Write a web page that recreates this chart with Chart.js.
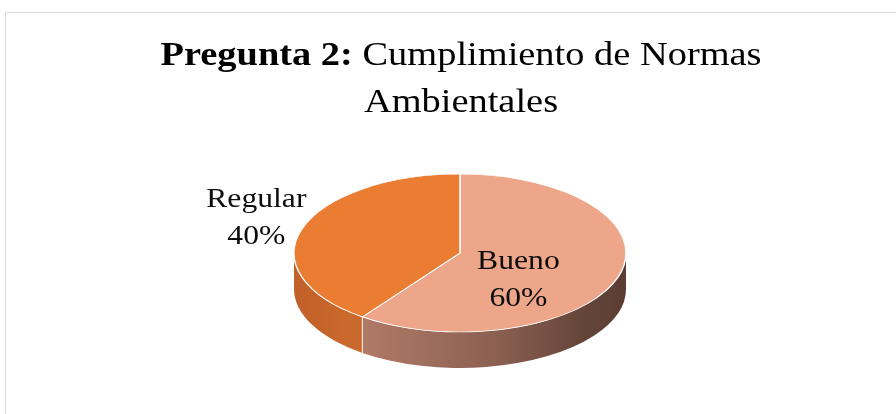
<!DOCTYPE html>
<html>
<head>
<meta charset="utf-8">
<script src="https://cdn.jsdelivr.net/npm/chart.js@4/dist/chart.umd.min.js"></script>
<style>
  html, body { margin: 0; padding: 0; background: #ffffff; }
  #wrap { position: relative; width: 896px; height: 414px; overflow: hidden; }
  canvas { display: block; }
</style>
</head>
<body>
<div id="wrap"><canvas id="c" width="896" height="414"></canvas></div>
<script>
// ---- data ----
const categories = ['Bueno', 'Regular'];
const values = [60, 40];
const percentLabels = ['60%', '40%'];
const topColors = ['#EDA689', '#EA7D32'];
const titleBold = 'Pregunta 2:';
const titleRest = ' Cumplimiento de Normas';
const titleLine2 = 'Ambientales';

// ---- layout / style constants ----
const ELLIPSE_CY = 253;   // screen y of pie top-face centre
const ELLIPSE_RY = 79;    // vertical radius of the tilted top face
const DEPTH = 36;         // thickness of the pie
const FONT = '"Liberation Serif", "Times New Roman", serif';
const TEXT_STRETCH = 1.13; // horizontal stretch of the reference lettering
const LABEL_POS = [ { f: 0.37, dy: 16 }, { f: 1.29, dy: -5 } ];
const TITLE_CX = 461;

function sideFill(ctx, index, x0, x1) {
  const g = ctx.createLinearGradient(x0, 0, x1, 0);
  if (index === 0) {
    g.addColorStop(0.00, '#C38C78');
    g.addColorStop(0.16, '#B47C68');
    g.addColorStop(0.35, '#A37160');
    g.addColorStop(0.62, '#8A5F50');
    g.addColorStop(0.87, '#654539');
    g.addColorStop(1.00, '#5A3D33');
  } else {
    g.addColorStop(0.00, '#C05F28');
    g.addColorStop(0.16, '#C9692C');
    g.addColorStop(1.00, '#C9692C');
  }
  return g;
}

function stretchedText(ctx, text, x, y, align) {
  const w = ctx.measureText(text).width * TEXT_STRETCH;
  let left = x;
  if (align === 'center') left = x - w / 2;
  ctx.save();
  ctx.translate(left, y);
  ctx.scale(TEXT_STRETCH, 1);
  ctx.textAlign = 'left';
  ctx.fillText(text, 0, 0);
  ctx.restore();
  return w;
}

const frame = {
  id: 'frame',
  beforeDraw(chart) {
    const ctx = chart.ctx;
    ctx.save();
    ctx.fillStyle = '#ffffff';
    ctx.fillRect(0, 0, chart.width, chart.height);
    ctx.strokeStyle = '#D9D9D9';
    ctx.lineWidth = 1;
    ctx.beginPath();
    ctx.moveTo(5.5, 430);
    ctx.lineTo(5.5, 12.5);
    ctx.lineTo(900, 12.5);
    ctx.stroke();
    ctx.restore();
  }
};

function clampFront(a0, a1) {
  const res = [];
  for (const off of [-2 * Math.PI, 0, 2 * Math.PI]) {
    const s = Math.max(a0, off), e = Math.min(a1, off + Math.PI);
    if (e > s) res.push([s - off, e - off]);
  }
  return res;
}

const pie3d = {
  id: 'pie3d',
  beforeDatasetsDraw(chart) {
    const ctx = chart.ctx;
    const arcs = chart.getDatasetMeta(0).data;
    const cx = arcs[0].x, cy = arcs[0].y, r = arcs[0].outerRadius;
    ctx.save();
    arcs.forEach((arc, i) => {
      clampFront(arc.startAngle, arc.endAngle).forEach(([s, e]) => {
        ctx.beginPath();
        ctx.ellipse(cx, ELLIPSE_CY, r, ELLIPSE_RY, 0, s, e, false);
        ctx.ellipse(cx, ELLIPSE_CY + DEPTH, r, ELLIPSE_RY, 0, e, s, true);
        ctx.closePath();
        ctx.fillStyle = sideFill(ctx, i, cx - r, cx + r);
        ctx.fill();
      });
    });
    ctx.strokeStyle = 'rgba(255,255,255,0.8)';
    ctx.lineWidth = 1.2;
    arcs.forEach((arc) => {
      let a = arc.startAngle;
      a = ((a % (2 * Math.PI)) + 2 * Math.PI) % (2 * Math.PI);
      if (a > 0.02 && a < Math.PI - 0.02) {
        const x = cx + r * Math.cos(a), y = ELLIPSE_CY + ELLIPSE_RY * Math.sin(a);
        ctx.beginPath();
        ctx.moveTo(x, y);
        ctx.lineTo(x, y + DEPTH);
        ctx.stroke();
      }
    });
    const k = ELLIPSE_RY / r;
    ctx.translate(0, ELLIPSE_CY);
    ctx.scale(1, k);
    ctx.translate(0, -cy);
  },
  afterDatasetsDraw(chart) {
    const ctx = chart.ctx;
    ctx.restore();
    const arcs = chart.getDatasetMeta(0).data;
    const cx = arcs[0].x, r = arcs[0].outerRadius;
    ctx.save();
    ctx.fillStyle = '#0D0D0D';
    ctx.font = '28px ' + FONT;
    ctx.textBaseline = 'alphabetic';
    arcs.forEach((arc, i) => {
      const mid = (arc.startAngle + arc.endAngle) / 2;
      const p = LABEL_POS[i];
      const x = cx + p.f * r * Math.cos(mid);
      const yc = ELLIPSE_CY + p.f * ELLIPSE_RY * Math.sin(mid) + p.dy;
      stretchedText(ctx, categories[i], x, yc - 9.25, 'center');
      stretchedText(ctx, percentLabels[i], x, yc + 27.75, 'center');
    });
    ctx.restore();
  }
};

const titlePlugin = {
  id: 'titleMixed',
  afterDraw(chart) {
    const ctx = chart.ctx;
    ctx.save();
    ctx.fillStyle = '#000000';
    ctx.textBaseline = 'alphabetic';
    const bold = '700 34px ' + FONT, reg = '400 34px ' + FONT;
    ctx.font = bold; const w1 = ctx.measureText(titleBold).width * TEXT_STRETCH;
    ctx.font = reg; const w2 = ctx.measureText(titleRest).width * TEXT_STRETCH;
    const x = TITLE_CX - (w1 + w2) / 2;
    ctx.font = bold; stretchedText(ctx, titleBold, x, 64.5, 'left');
    ctx.font = reg; stretchedText(ctx, titleRest, x + w1, 64.5, 'left');
    stretchedText(ctx, titleLine2, TITLE_CX, 111.5, 'center');
    ctx.restore();
  }
};

new Chart(document.getElementById('c'), {
  type: 'pie',
  data: {
    labels: categories,
    datasets: [{
      data: values,
      backgroundColor: topColors,
      borderColor: '#FFFFFF',
      borderWidth: 1.5,
      radius: 166
    }]
  },
  options: {
    responsive: false,
    animation: false,
    events: [],
    layout: { padding: { left: 124, right: 100, top: 0, bottom: 0 } },
    plugins: {
      legend: { display: false },
      tooltip: { enabled: false },
      title: { display: false }
    }
  },
  plugins: [frame, pie3d, titlePlugin]
});
</script>
</body>
</html>
